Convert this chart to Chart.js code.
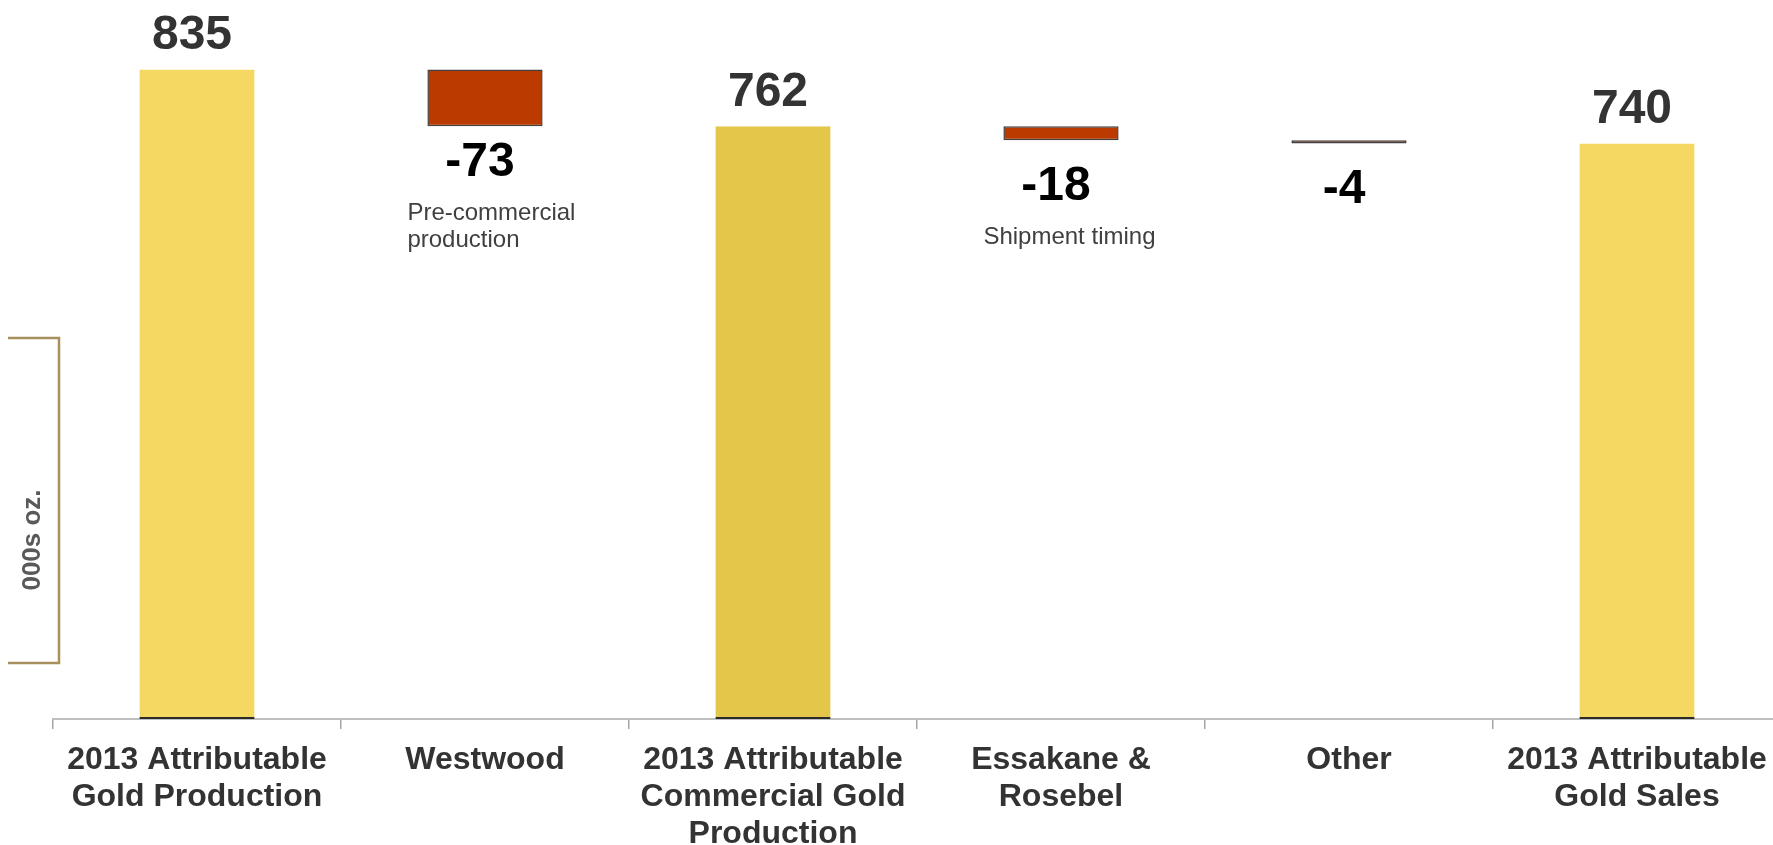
<!DOCTYPE html>
<html>
<head>
<meta charset="utf-8">
<script src="https://cdn.jsdelivr.net/npm/chart.js@4"></script>
<style>
  html, body { margin: 0; padding: 0; background: #fff; overflow: hidden; }
  #wrap { width: 1790px; height: 845px; }
</style>
</head>
<body>
<div id="wrap"><canvas id="bridge" width="1790" height="845"></canvas></div>
<script>
  // Attributable gold: production to sales bridge, 000s oz.
  const categories = [
    ['2013 Attributable', 'Gold Production'],
    'Westwood',
    ['2013 Attributable', 'Commercial Gold', 'Production'],
    ['Essakane &', 'Rosebel'],
    'Other',
    ['2013 Attributable', 'Gold Sales']
  ];
  const changes = [835, -73, 762, -18, -4, 740];
  const isTotal = [true, false, true, false, false, true];
  const notes = [[], ['Pre-commercial', 'production'], [], ['Shipment timing'], [], []];
  const unitLabel = '000s oz.';
  const yMin = 0;
  const yMax = 900;

  const FONT = '"Liberation Sans", Arial, sans-serif';

  // totals stand on zero, changes float from the running total
  let running = 0;
  const ranges = changes.map((v, i) => {
    if (isTotal[i]) { running = v; return [0, v]; }
    const r = [running + v, running];
    running += v;
    return r;
  });

  const fills = changes.map((v, i) => {
    if (!isTotal[i]) return '#BA3A00';
    return i === 2 ? '#E3C64A' : '#F5D862';
  });

  // value labels, notes and the unit bracket
  const bridgeLabels = {
    id: 'bridgeLabels',
    afterDatasetsDraw(chart) {
      const ctx = chart.ctx;
      const bars = chart.getDatasetMeta(0).data;
      ctx.save();
      bars.forEach((bar, i) => {
        const x = bar.x - 5;
        ctx.textAlign = 'center';
        ctx.textBaseline = 'middle';
        ctx.font = 'bold 48px ' + FONT;
        if (isTotal[i]) {
          ctx.fillStyle = '#333333';
          ctx.fillText(String(changes[i]), x, Math.min(bar.y, bar.base) - 34);
          return;
        }
        const bottom = Math.max(bar.y, bar.base);
        const cy = bottom + (i === 1 ? 36 : 46);
        ctx.fillStyle = '#000000';
        ctx.fillText(String(changes[i]), x, cy);

        ctx.font = '24px ' + FONT;
        ctx.fillStyle = '#404040';
        ctx.textAlign = 'left';
        ctx.textBaseline = 'alphabetic';
        const left = bar.x - bar.width / 2 - 20;
        notes[i].forEach((line, k) => {
          ctx.fillText(line, left, cy + 58 + k * 27);
        });
      });

      // bracket with the unit
      ctx.strokeStyle = '#A8905E';
      ctx.lineWidth = 2.5;
      ctx.beginPath();
      ctx.moveTo(8, 338);
      ctx.lineTo(59, 338);
      ctx.lineTo(59, 663);
      ctx.lineTo(8, 663);
      ctx.stroke();

      ctx.translate(33, 540);
      ctx.rotate(-Math.PI / 2);
      ctx.font = 'bold 26px ' + FONT;
      ctx.fillStyle = '#595959';
      ctx.textAlign = 'center';
      ctx.textBaseline = 'middle';
      ctx.fillText(unitLabel, 0, 0);
      ctx.restore();
    }
  };

  new Chart(document.getElementById('bridge'), {
    type: 'bar',
    data: {
      labels: categories,
      datasets: [{
        data: ranges,
        backgroundColor: fills,
        borderColor: changes.map((v, i) => isTotal[i] ? '#2b2b2b' : '#404040'),
        borderWidth: ctx => isTotal[ctx.dataIndex]
          ? { top: 0, left: 0, right: 0, bottom: 2 }
          : 1.5,
        borderSkipped: false,
        barPercentage: 0.4,
        categoryPercentage: 1
      }]
    },
    options: {
      responsive: false,
      animation: false,
      layout: { padding: { left: 53, right: 9, top: 19, bottom: 0 } },
      plugins: {
        legend: { display: false },
        tooltip: { enabled: false }
      },
      scales: {
        x: {
          afterFit: scale => { scale.height = 126; },
          grid: {
            display: true,
            drawOnChartArea: false,
            drawTicks: true,
            tickLength: 10,
            color: '#a6a6a6',
            lineWidth: 1.5
          },
          border: { display: true, color: '#bfbfbf', width: 2 },
          ticks: {
            color: '#333333',
            font: { family: FONT, size: 32, weight: 'bold', lineHeight: 1.17 },
            padding: 12,
            maxRotation: 0,
            autoSkip: false
          }
        },
        y: {
          display: false,
          min: yMin,
          max: yMax
        }
      }
    },
    plugins: [bridgeLabels]
  });
</script>
</body>
</html>
